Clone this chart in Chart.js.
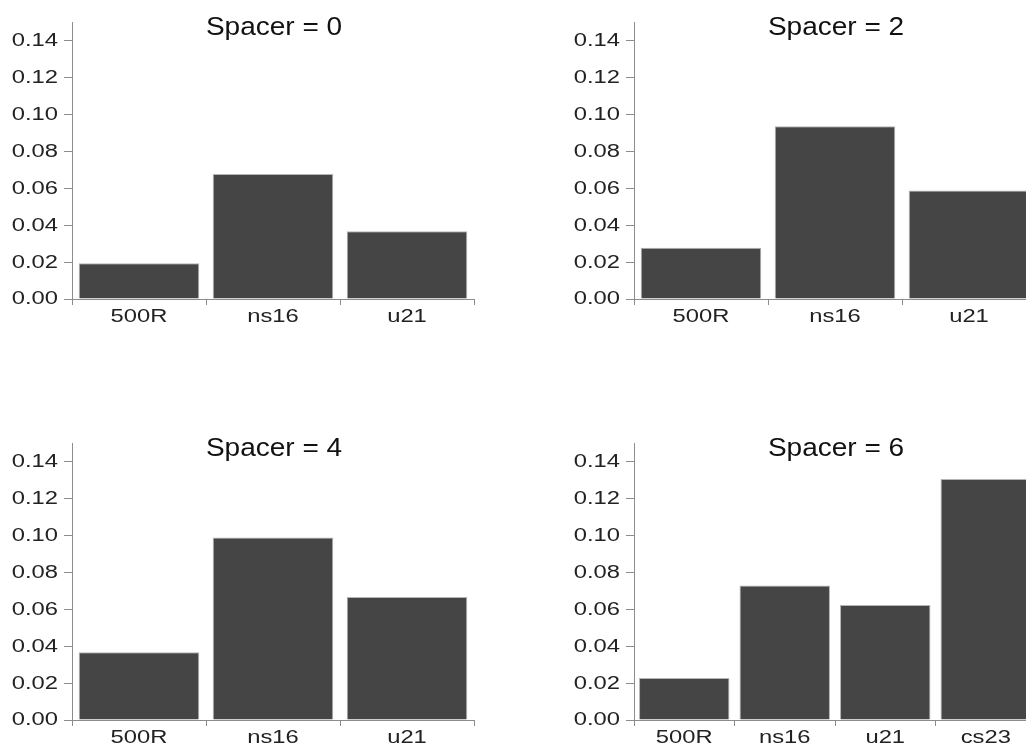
<!DOCTYPE html>
<html>
<head>
<meta charset="utf-8">
<script src="https://cdn.jsdelivr.net/npm/chart.js@4/dist/chart.umd.min.js"></script>
<style>
  html, body { margin: 0; padding: 0; background: #fff; overflow: hidden; width: 1026px; height: 749px; }
  .panel { position: absolute; }
</style>
</head>
<body>
<div class="panel" style="left:0px;top:0px"><canvas id="c0" width="480" height="345"></canvas></div>
<div class="panel" style="left:562px;top:0px"><canvas id="c2" width="480" height="345"></canvas></div>
<div class="panel" style="left:0px;top:421px"><canvas id="c4" width="480" height="345"></canvas></div>
<div class="panel" style="left:562px;top:421px"><canvas id="c6" width="480" height="345"></canvas></div>
<script>
// Cell categories per spacer length
const categoriesShort = ['500R', 'ns16', 'u21'];
const categoriesLong = ['500R', 'ns16', 'u21', 'cs23'];

// Measured fraction for each spacer length
const spacer0 = [0.0193, 0.0677, 0.0367];
const spacer2 = [0.0277, 0.0936, 0.0587];
const spacer4 = [0.0367, 0.0988, 0.0666];
const spacer6 = [0.0228, 0.0729, 0.0623, 0.1305];

// Shared y axis ticks
const yTickValues = [0, 0.02, 0.04, 0.06, 0.08, 0.10, 0.12, 0.14];
const yMax = 0.15;

const FONT = '"Liberation Sans", Arial, sans-serif';
const AXIS_COLOR = '#8c8c8c';
const TEXT_COLOR = '#222222';
const TICK_FONT = '18px ' + FONT;
const TICK_STRETCH = 1.32;
const HEAD_FONT = '25px ' + FONT;
const HEAD_STRETCH = 1.12;

// Draws text with a horizontal stretch around its anchor point
function wideText(ctx, text, x, y, stretch, align, baseline) {
  ctx.save();
  ctx.translate(x, y);
  ctx.scale(stretch, 1);
  ctx.textAlign = align;
  ctx.textBaseline = baseline;
  ctx.fillText(text, 0, 0);
  ctx.restore();
}

// Axis labels and panel heading, placed from the chart's own scales
const labelPlugin = {
  id: 'panelLabels',
  afterDraw(chart, args, opts) {
    const { ctx, chartArea, scales } = chart;
    const xs = scales.x, ys = scales.y;
    ctx.save();
    ctx.fillStyle = TEXT_COLOR;
    ctx.font = TICK_FONT;
    ys.ticks.forEach(t => {
      wideText(ctx, Number(t.value).toFixed(2), chartArea.left - 14,
               ys.getPixelForValue(t.value) + 0.5, TICK_STRETCH, 'right', 'middle');
    });
    chart.data.labels.forEach((lab, i) => {
      wideText(ctx, lab, xs.getPixelForValue(i), chartArea.bottom + 23,
               TICK_STRETCH, 'center', 'alphabetic');
    });
    ctx.fillStyle = '#111111';
    ctx.font = HEAD_FONT;
    wideText(ctx, opts.text, (chartArea.left + chartArea.right) / 2 + 1,
             chartArea.top + 13, HEAD_STRETCH, 'center', 'alphabetic');
    ctx.restore();
  }
};

function makePanel(id, heading, labels, values) {
  new Chart(document.getElementById(id), {
    type: 'bar',
    data: {
      labels: labels,
      datasets: [{
        data: values,
        backgroundColor: '#454545',
        borderColor: '#b4b4b4',
        borderWidth: 1,
        categoryPercentage: 1.0,
        barPercentage: 0.9
      }]
    },
    options: {
      responsive: false,
      devicePixelRatio: 1,
      animation: false,
      events: [],
      layout: { padding: { top: 22, right: 6, left: 0, bottom: 0 } },
      plugins: {
        legend: { display: false },
        title: { display: false },
        tooltip: { enabled: false },
        panelLabels: { text: heading }
      },
      scales: {
        x: {
          type: 'category',
          offset: true,
          afterFit(scale) { scale.height = 46; },
          grid: {
            offset: true,
            drawOnChartArea: false,
            drawTicks: true,
            tickLength: 6,
            color: AXIS_COLOR,
            lineWidth: 1
          },
          border: { display: true, color: AXIS_COLOR, width: 1 },
          ticks: { display: false, autoSkip: false }
        },
        y: {
          type: 'linear',
          min: 0,
          max: yMax,
          afterFit(scale) { scale.width = 72; },
          afterBuildTicks(scale) {
            scale.ticks = yTickValues.map(v => ({ value: v }));
          },
          grid: {
            drawOnChartArea: false,
            drawTicks: true,
            tickLength: 8,
            color: AXIS_COLOR,
            lineWidth: 1
          },
          border: { display: true, color: AXIS_COLOR, width: 1 },
          ticks: { display: false }
        }
      }
    },
    plugins: [labelPlugin]
  });
}

makePanel('c0', 'Spacer = 0', categoriesShort, spacer0);
makePanel('c2', 'Spacer = 2', categoriesShort, spacer2);
makePanel('c4', 'Spacer = 4', categoriesShort, spacer4);
makePanel('c6', 'Spacer = 6', categoriesLong, spacer6);
</script>
</body>
</html>
